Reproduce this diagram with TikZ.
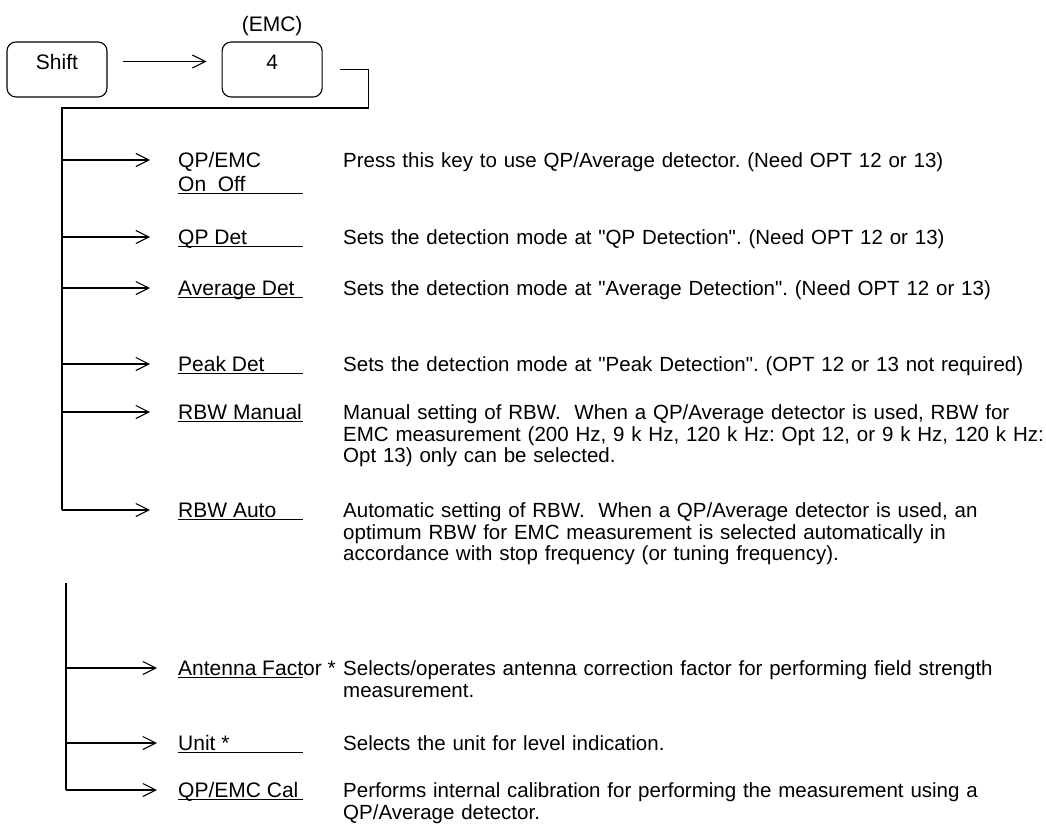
\documentclass[tikz,border=0pt]{standalone}
\usepackage{fontspec}
\setmainfont{Liberation Sans}
\usetikzlibrary{arrows.meta,positioning}
\newcommand{\keyfont}{\fontsize{21pt}{21.5pt}\selectfont\frenchspacing}
\newcommand{\notefont}{\fontsize{20.5pt}{21.5pt}\selectfont\frenchspacing}

\begin{document}
\begin{tikzpicture}[
  x=1pt, y=-1pt,
  keybox/.style={
    draw,
    line width=1.1pt,
    rounded corners=9pt,
    minimum width=100pt,
    minimum height=55pt,
    inner sep=0pt,
    text height=12pt,
    text depth=12pt,
    font=\keyfont
  },
  softkey/.style={anchor=west, inner sep=0pt, text height=15pt, text depth=0pt, font=\keyfont},
  note/.style={anchor=base west, inner sep=0pt, text width=720pt, align=left, font=\notefont},
  uline/.style={line width=1.1pt},
  link/.style={line width=1.1pt},
  arrow/.style={-{Straight Barb[length=13pt,width=13pt]},line width=1.1pt}
]
  \useasboundingbox (0,0) rectangle (1046,829);

  \node[keybox] (shift) at (57,69.5) {Shift};
  \node[keybox,right=114pt of shift] (four) {4};
  \node[above=5pt of four,inner sep=0pt,font=\keyfont] (emc) {(EMC)};
  \draw[arrow,shorten <=15pt,shorten >=15pt] ([yshift=8pt]shift.east) -- ([yshift=8pt]four.west);

  \coordinate (elbow) at ([xshift=46pt]four.east);
  \coordinate (trunktop) at (62,108);
  \coordinate (trunkbtop) at (66,583);
  \coordinate (notecol) at (343,0);

  \node[softkey] (qpemc) at (178,160) {QP/EMC};
  \node[softkey] (onoff) at (178,184) {On~~Off};
  \node[softkey] (qpdet) at (178,237) {QP Det};
  \node[softkey] (avgdet) at (178,288) {Average Det};
  \node[softkey] (peakdet) at (178,364) {Peak Det};
  \node[softkey] (rbwman) at (178,412) {RBW Manual};
  \node[softkey] (rbwauto) at (178,510) {RBW Auto};
  \node[softkey] (antfac) at (178,668) {Antenna Factor *};
  \node[softkey] (unit) at (178,743) {Unit *};
  \node[softkey] (qpcal) at (178,790) {QP/EMC Cal};

  \draw[uline] ([yshift=-1.5pt]onoff.south west) -- ++(125,0);
  \draw[uline] ([yshift=-1.5pt]qpdet.south west) -- ++(125,0);
  \draw[uline] ([yshift=-1.5pt]avgdet.south west) -- ++(125,0);
  \draw[uline] ([yshift=-1.5pt]peakdet.south west) -- ++(125,0);
  \draw[uline] ([yshift=-1.5pt]rbwman.south west) -- ++(125,0);
  \draw[uline] ([yshift=-1.5pt]rbwauto.south west) -- ++(125,0);
  \draw[uline] ([yshift=-1.5pt]antfac.south west) -- ++(125,0);
  \draw[uline] ([yshift=-1.5pt]unit.south west) -- ++(125,0);
  \draw[uline] ([yshift=-1.5pt]qpcal.south west) -- ++(125,0);

  \node[note] (qpemcnote) at (qpemc.south -| notecol) {Press this key to use QP/Average detector. (Need OPT 12 or 13)};
  \node[note] (qpdetnote) at (qpdet.south -| notecol) {Sets the detection mode at \textquotedbl QP Detection\textquotedbl. (Need OPT 12 or 13)};
  \node[note] (avgdetnote) at (avgdet.south -| notecol) {Sets the detection mode at \textquotedbl Average Detection\textquotedbl. (Need OPT 12 or 13)};
  \node[note] (peakdetnote) at (peakdet.south -| notecol) {Sets the detection mode at \textquotedbl Peak Detection\textquotedbl. (OPT 12 or 13 not required)};
  \node[note] (rbwmannote) at (rbwman.south -| notecol) {Manual setting of RBW.\ \ When a QP/Average detector is used, RBW for\\EMC measurement (200 Hz, 9 k Hz, 120 k Hz: Opt 12, or 9 k Hz, 120 k Hz:\\Opt 13) only can be selected.};
  \node[note] (rbwautonote) at (rbwauto.south -| notecol) {Automatic setting of RBW.\ \ When a QP/Average detector is used, an\\optimum RBW for EMC measurement is selected automatically in\\accordance with stop frequency (or tuning frequency).};
  \node[note] (antfacnote) at (antfac.south -| notecol) {Selects/operates antenna correction factor for performing field strength\\measurement.};
  \node[note] (unitnote) at (unit.south -| notecol) {Selects the unit for level indication.};
  \node[note] (qpcalnote) at (qpcal.south -| notecol) {Performs internal calibration for performing the measurement using a\\QP/Average detector.};

  \draw[link] ([xshift=17pt]four.east) -- (elbow) |- (trunktop) -- (trunktop |- rbwauto.west);
  \draw[arrow] (trunktop |- qpemc.west) -- ([xshift=-28pt]qpemc.west);
  \draw[arrow] (trunktop |- qpdet.west) -- ([xshift=-28pt]qpdet.west);
  \draw[arrow] (trunktop |- avgdet.west) -- ([xshift=-28pt]avgdet.west);
  \draw[arrow] (trunktop |- peakdet.west) -- ([xshift=-28pt]peakdet.west);
  \draw[arrow] (trunktop |- rbwman.west) -- ([xshift=-28pt]rbwman.west);
  \draw[arrow] (trunktop |- rbwauto.west) -- ([xshift=-28pt]rbwauto.west);

  \draw[link] (trunkbtop) -- (trunkbtop |- qpcal.west);
  \draw[arrow] (trunkbtop |- antfac.west) -- ([xshift=-21pt]antfac.west);
  \draw[arrow] (trunkbtop |- unit.west) -- ([xshift=-21pt]unit.west);
  \draw[arrow] (trunkbtop |- qpcal.west) -- ([xshift=-21pt]qpcal.west);
\end{tikzpicture}
\end{document}
